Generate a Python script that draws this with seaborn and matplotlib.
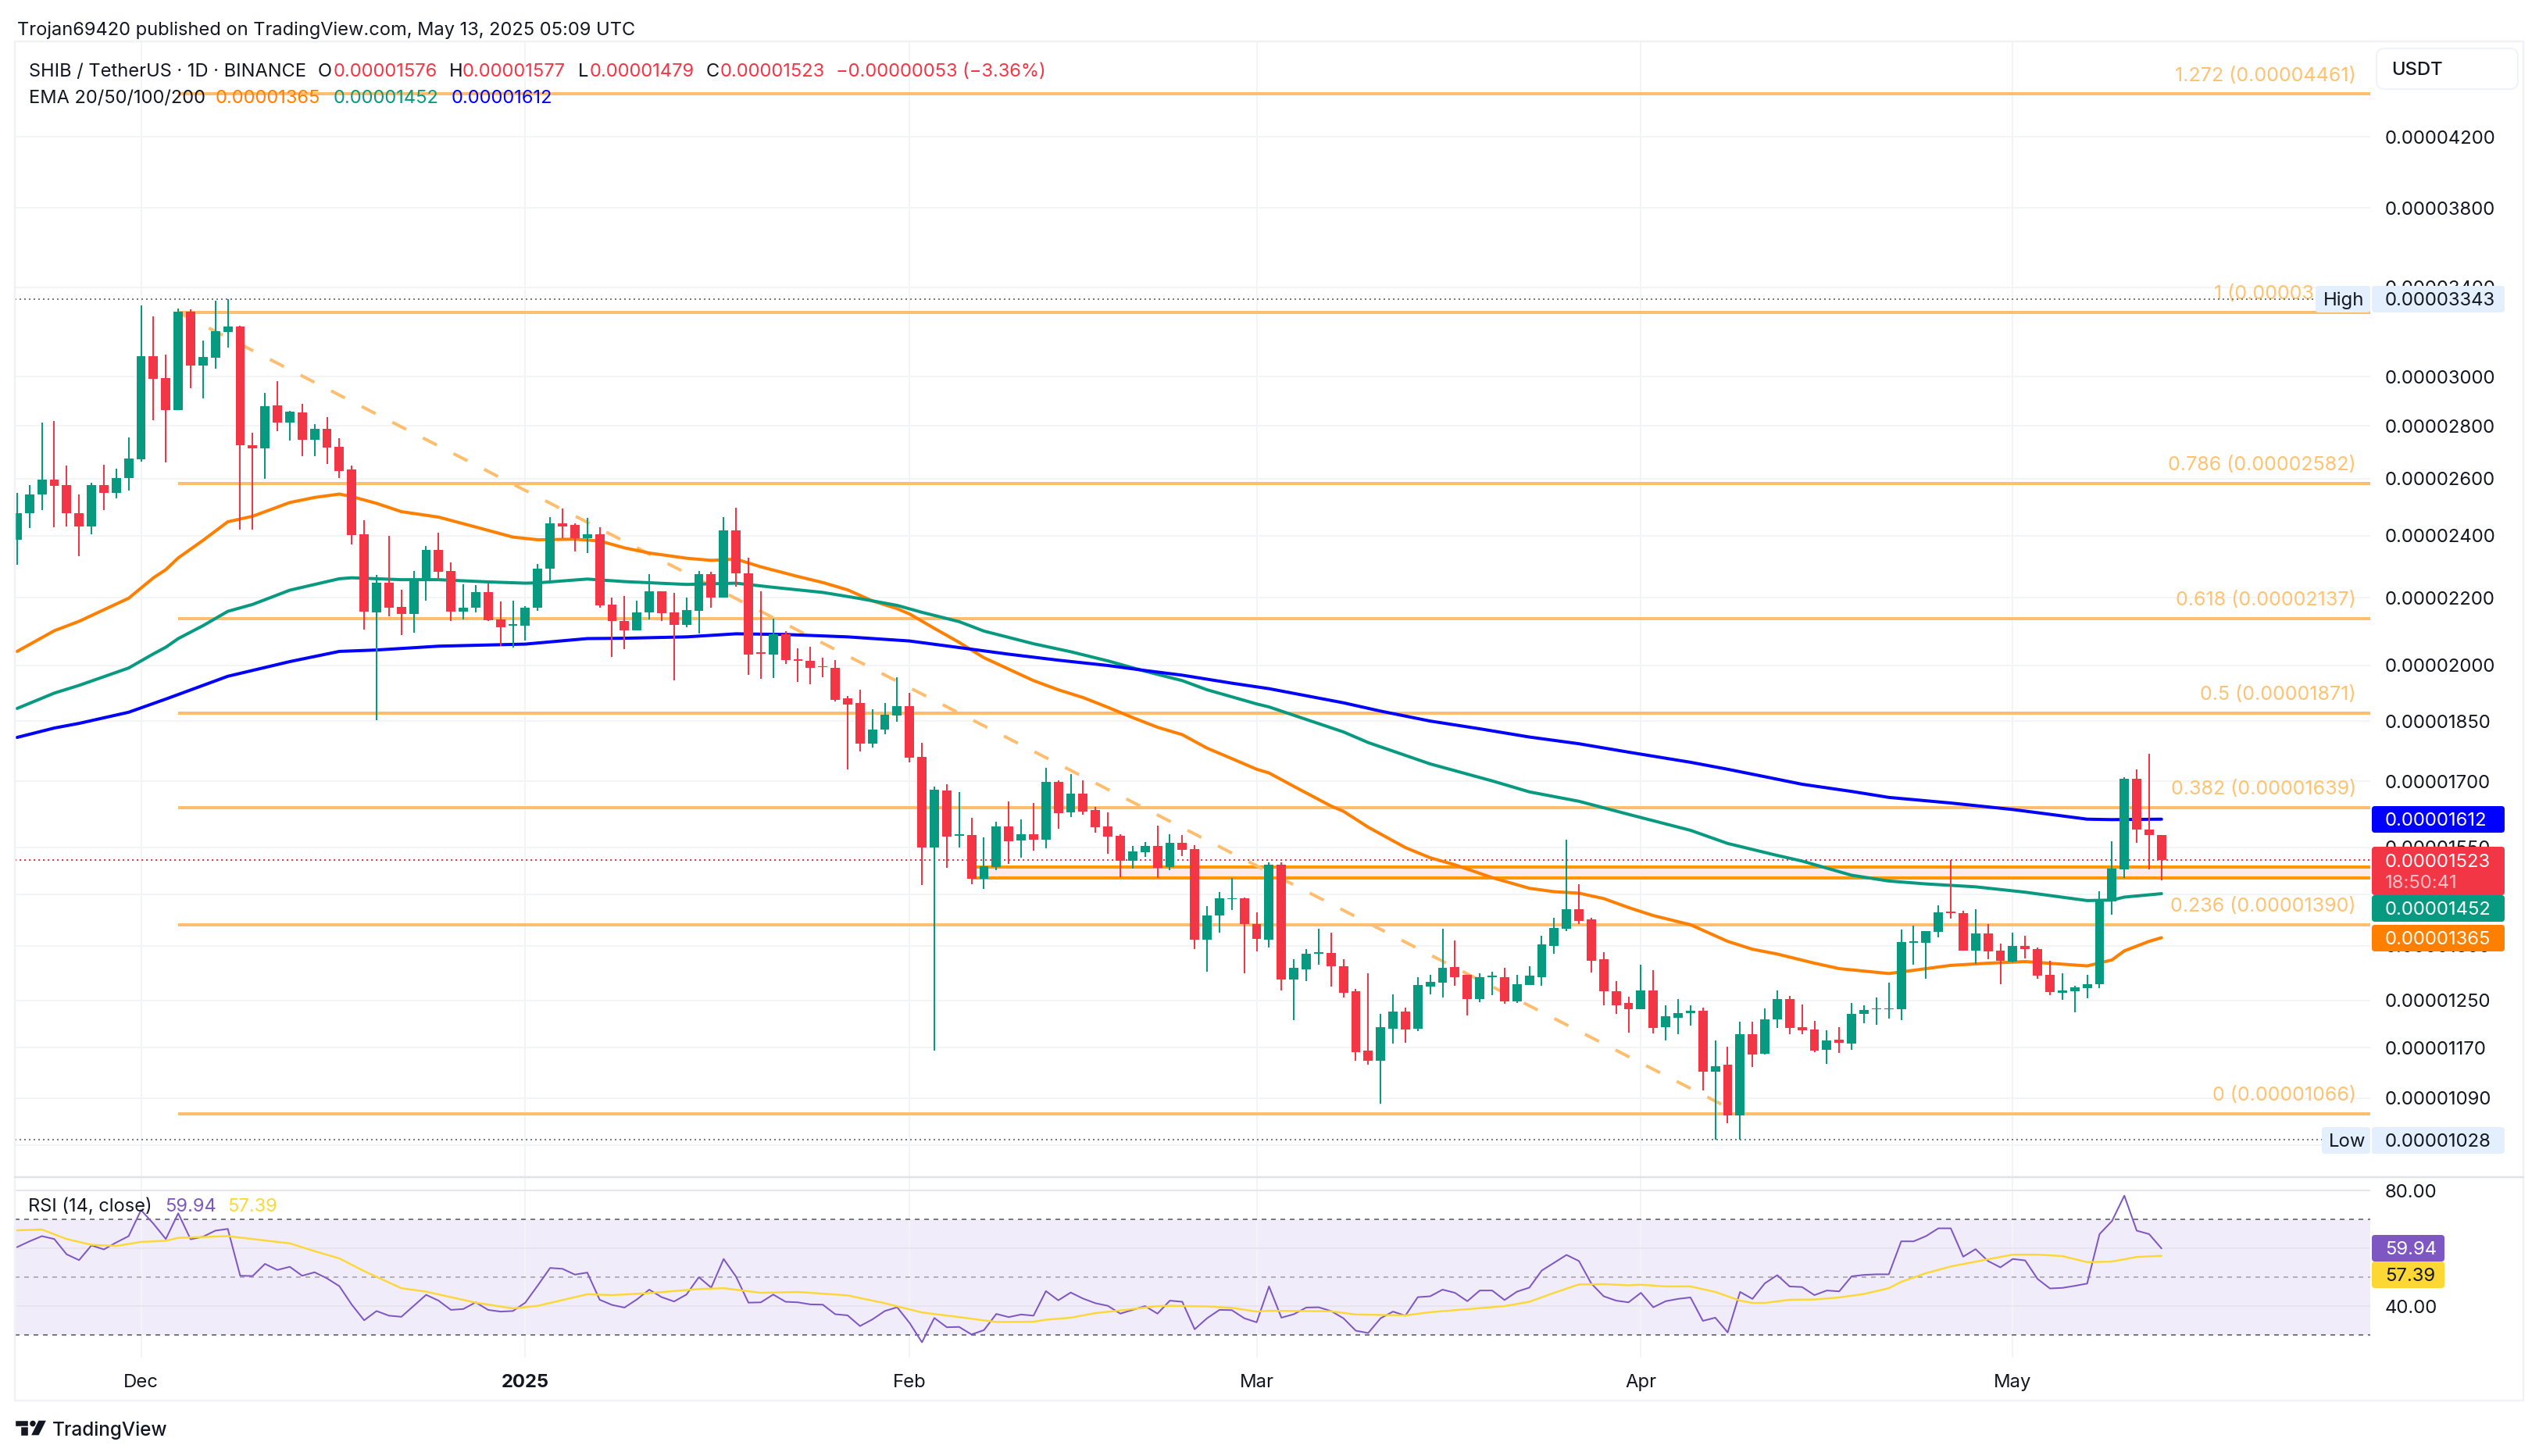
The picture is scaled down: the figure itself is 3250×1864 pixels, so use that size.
import matplotlib
matplotlib.use("Agg")
import matplotlib.pyplot as plt
import numpy as np
import pandas as pd
import seaborn as sns
from matplotlib.lines import Line2D
from matplotlib.patches import FancyBboxPatch, Polygon, Circle, Rectangle
from matplotlib.ticker import NullLocator
from matplotlib.transforms import Affine2D

# prices in units of 0.00000001 USDT; one candle per day, first is Nov 21 2024
opens = [2386,2476,2542,2595,2575,2477,2431,2575,2547,2603,2672,3088,2995,2862,3288,3046,3082,3195,3219,2725,
         2713,2882,2811,2854,2746,2788,2718,2634,2405,2154,2247,2172,2151,2251,2351,2284,2158,2168,2218,2134,
         2116,2115,2168,2290,2442,2435,2391,2405,2179,2130,2101,2154,2219,2154,2118,2160,2273,2200,2418,2276,
         2037,2032,2090,2018,2013,1998,1993,1910,1897,1793,1828,1865,1889,1760,1550,1678,1575,1576,1483,1507,
         1596,1564,1578,1566,1699,1628,1671,1632,1596,1575,1521,1539,1552,1507,1559,1545,1361,1408,1441,1442,
         1391,1361,1513,1287,1305,1335,1336,1312,1266,1165,1148,1201,1230,1201,1274,1281,1310,1295,1252,1291,
         1292,1248,1278,1292,1349,1382,1420,1400,1324,1266,1245,1235,1267,1204,1220,1228,1232,1131,1142,1064,
         1192,1160,1217,1253,1204,1200,1166,1183,1176,1226,1234,1234,1234,1355,1355,1376,1416,1413,1341,1373,
         1340,1320,1349,1344,1296,1263,1266,1272,1279,1437,1503,1706,1589,1576]
highs = [2547,2577,2813,2819,2649,2544,2586,2652,2637,2756,3316,3266,3095,3302,3297,3154,3337,3343,3222,2774,
         2933,2982,2860,2886,2807,2834,2750,2649,2451,2272,2400,2225,2284,2366,2409,2312,2242,2240,2245,2189,
         2191,2173,2307,2464,2493,2442,2461,2429,2199,2204,2190,2273,2219,2214,2200,2283,2280,2463,2496,2327,
         2219,2135,2099,2048,2054,2021,2015,1916,1933,1881,1897,1967,1924,1794,1687,1693,1675,1615,1571,1606,
         1652,1612,1649,1733,1703,1718,1703,1640,1627,1578,1552,1561,1597,1578,1576,1555,1427,1455,1484,1444,
         1414,1518,1518,1324,1343,1382,1374,1324,1271,1298,1227,1260,1238,1291,1296,1382,1359,1295,1298,1302,
         1308,1295,1311,1368,1403,1566,1471,1403,1337,1284,1256,1314,1304,1242,1253,1242,1238,1182,1172,1213,
         1213,1236,1267,1258,1243,1215,1198,1204,1245,1241,1255,1281,1380,1389,1378,1428,1522,1417,1421,1391,
         1353,1374,1368,1347,1321,1298,1276,1295,1457,1562,1710,1729,1766,1577]
lows = [2305,2426,2488,2429,2431,2332,2405,2488,2530,2558,2662,2822,2661,2862,2952,2910,3032,3123,2421,2419,
        2600,2780,2742,2684,2684,2655,2603,2371,2104,1853,2144,2088,2094,2191,2256,2128,2134,2154,2129,2056,
        2051,2072,2160,2252,2390,2346,2343,2168,2025,2047,2101,2133,2128,1959,2111,2091,2170,2200,2234,1974,
        1964,1966,2005,1955,1949,1967,1901,1728,1772,1782,1816,1848,1746,1470,1165,1505,1550,1471,1461,1501,
        1514,1528,1543,1548,1590,1617,1622,1581,1536,1486,1504,1529,1484,1501,1530,1343,1302,1374,1419,1298,
        1339,1347,1267,1216,1285,1314,1274,1255,1149,1142,1081,1177,1178,1197,1260,1255,1276,1224,1247,1259,
        1244,1245,1277,1276,1334,1377,1391,1300,1241,1226,1195,1235,1194,1182,1192,1206,1102,1028,1052,1028,
        1139,1158,1202,1192,1192,1163,1144,1161,1166,1211,1208,1219,1216,1314,1289,1366,1402,1340,1316,1325,
        1279,1318,1326,1288,1259,1251,1229,1254,1272,1410,1484,1559,1503,1479]
closes = [2477,2544,2595,2573,2476,2431,2575,2547,2603,2675,3088,2991,2862,3288,3046,3084,3199,3219,2723,2713,
          2879,2811,2857,2746,2788,2716,2629,2402,2156,2247,2168,2151,2259,2351,2282,2158,2170,2218,2132,2111,
          2119,2170,2292,2442,2431,2390,2405,2177,2128,2102,2154,2219,2153,2118,2161,2273,2200,2418,2276,2032,
          2033,2090,2016,2014,1994,1995,1905,1894,1793,1828,1866,1889,1758,1550,1680,1573,1578,1483,1509,1596,
          1562,1578,1566,1699,1626,1671,1629,1594,1573,1521,1540,1552,1505,1559,1544,1361,1408,1442,1443,1391,
          1362,1513,1287,1308,1335,1337,1312,1264,1162,1148,1204,1231,1200,1277,1283,1309,1292,1252,1291,1294,
          1248,1279,1294,1352,1383,1420,1398,1321,1266,1242,1235,1267,1202,1222,1228,1232,1131,1140,1064,1192,
          1159,1217,1253,1202,1198,1165,1182,1178,1227,1233,1236,1236,1357,1358,1377,1414,1413,1341,1373,1339,
          1321,1349,1343,1294,1265,1268,1273,1279,1440,1504,1706,1589,1576,1523]

ema_orange_i = [0,3,5,9,11,12,13,15,17,19,22,24,26,27,29,31,34,37,40,42,45,47,49,51,54,56,58,60,63,65,67,69,71,72,74,76,78,
                82,84,86,88,90,92,94,96,98,100,101,103,106,107,109,112,114,116,119,122,124,126,128,130,132,135,138,140,
                142,145,147,151,156,159,162,167,169,170,172,173]
ema_orange = [2040,2100,2128,2198,2262,2288,2326,2384,2447,2466,2514,2532,2544,2535,2511,2482,2463,2429,2395,2386,2388,2382,2359,
              2342,2325,2318,2322,2297,2266,2247,2224,2190,2166,2150,2107,2066,2022,1958,1933,1912,1886,1859,1834,1815,1781,
              1755,1729,1720,1688,1642,1630,1594,1549,1527,1512,1485,1463,1456,1453,1442,1424,1408,1390,1358,1343,1334,1317,
              1307,1298,1313,1317,1320,1312,1323,1340,1358,1365]
ema_green_i = [0,3,5,9,11,12,13,15,17,19,22,26,27,31,34,38,41,42,46,49,54,58,61,65,68,71,73,76,78,82,85,88,91,94,96,98,100,101,
               107,109,114,119,122,126,130,135,138,142,144,148,151,154,158,162,167,169,170,173]
ema_green = [1883,1924,1945,1993,2033,2052,2077,2115,2158,2179,2223,2259,2262,2256,2256,2249,2245,2246,2258,2250,2241,2245,2232,
             2216,2197,2176,2155,2127,2099,2062,2039,2013,1984,1958,1933,1914,1895,1887,1822,1795,1742,1701,1675,1653,1623,
             1587,1558,1532,1520,1490,1478,1472,1466,1455,1438,1439,1445,1452]
ema_blue_i = [0,3,5,9,12,17,22,26,29,34,41,46,49,54,58,62,67,72,76,80,84,88,91,94,98,101,107,110,114,118,122,126,130,135,138,141,
              144,148,151,156,161,164,167,169,173]
ema_blue = [1808,1832,1844,1873,1908,1970,2011,2040,2044,2055,2061,2077,2078,2082,2091,2089,2082,2070,2051,2032,2015,2000,1986,
            1973,1951,1936,1898,1876,1850,1830,1809,1792,1771,1746,1729,1711,1693,1676,1662,1649,1634,1623,1612,1611,1612]

rsi = [60.4,62.4,64.2,63.2,57.9,55.9,61.0,59.6,62.0,64.2,73.2,68.5,63.2,72.1,63.1,64.0,66.1,66.7,50.5,50.4,
       54.6,52.5,53.6,50.5,51.7,49.6,46.9,40.5,35.1,38.3,36.7,36.3,40.1,43.9,41.9,38.7,39.0,41.3,38.7,38.1,
       38.3,41.2,47.1,53.2,52.9,50.9,51.6,42.2,40.4,39.5,42.3,45.7,43.1,41.6,44.0,50.0,46.4,56.3,50.2,41.2,
       41.3,44.0,41.5,41.3,40.6,40.5,37.2,36.8,33.1,35.4,38.3,39.6,34.2,27.5,35.9,32.7,32.8,30.2,31.7,37.3,
       36.2,37.1,36.7,45.2,42.0,44.7,42.6,41.0,40.1,37.4,38.7,40.0,37.4,41.9,41.5,32.0,35.8,38.7,38.6,35.8,
       34.4,46.8,36.0,37.2,39.5,39.6,38.3,35.8,31.5,30.7,35.8,38.1,36.7,43.1,43.4,45.7,44.6,41.7,45.4,45.4,
       42.1,45.0,46.4,52.3,55.0,57.7,55.6,47.8,43.4,41.9,41.3,44.6,39.6,41.7,42.5,43.0,34.9,36.0,30.9,44.9,
       42.5,47.9,50.7,46.8,46.6,43.8,45.4,45.1,50.3,50.8,51.0,51.0,62.4,62.4,64.2,66.9,66.9,57.1,59.7,55.6,
       53.4,56.3,55.8,49.4,46.1,46.3,47.0,47.8,64.9,69.4,78.2,66.1,64.9,59.94]
rsi_ma_i = [0,2,4,6,8,10,12,13,17,22,24,26,28,31,33,37,40,42,46,48,51,55,57,60,63,67,70,73,76,79,82,83,85,87,89,92,93,96,98,100,
            101,106,108,112,114,116,120,122,124,126,128,130,131,133,135,137,139,140,141,143,145,147,149,151,152,154,156,159,
            161,163,165,167,169,171,173]
rsi_ma = [66.2,66.5,63.2,61.2,60.8,62.2,62.6,63.6,64.2,61.7,59.0,56.5,52.1,46.2,45.0,41.2,39.2,40.1,44.1,43.8,44.5,45.9,46.2,44.6,
          44.9,43.7,41.0,37.8,36.2,34.5,34.6,35.3,36.0,37.6,38.5,40.0,40.1,39.9,39.4,38.1,38.4,38.2,37.1,36.8,37.9,38.6,40.0,41.5,
          44.6,47.5,47.6,47.2,47.4,46.8,46.8,44.9,41.9,41.1,41.1,42.2,42.3,43.0,44.2,46.2,48.4,51.4,53.7,56.2,57.8,57.8,57.3,55.2,
          55.4,57.0,57.39]

fib_levels = [4461,3283,2582,2137,1871,1639,1390,1066]
fib_names = ["1.272 (0.00004461)","1 (0.00003","0.786 (0.00002582)","0.618 (0.00002137)",
             "0.5 (0.00001871)","0.382 (0.00001639)","0.236 (0.00001390)","0 (0.00001066)"]
fib_start, trend_end = 13, 139
zone_start, zone_top, zone_bottom = 77, 1507, 1484
last_close, period_high, period_low = 1523, 3343, 1028

price_ticks = [4200,3800,3400,3000,2800,2600,2400,2200,2000,1850,1700,1550,1450,1350,1250,1170,1090,1020]
price_tick_hidden = [1450,1020]
rsi_ticks = [80,60,40]
rsi_tick_labels = ["80.00","","40.00"]
month_pos = [10,41,72,100,131,161]
month_names = ["Dec","2025","Feb","Mar","Apr","May"]

W, H = 3250, 1864
GREEN, RED, ORANGE, BLUE = "#089981", "#f23645", "#ff7f00", "#0000ff"
FIB, INK, GRID = "#ffbe6e", "#131722", "#f3f4f6"
PURPLE, YELLOW = "#7e57c2", "#fdd835"
px = 0.72  # one pixel in points at dpi 100

sns.set_theme(style="white")
plt.rcParams["font.family"] = ["Inter", "DejaVu Sans"]

fig = plt.figure(figsize=(W / 100, H / 100), dpi=100, facecolor="white")
PX = Affine2D().scale(1, -1).translate(0, H)
LEFT, RIGHT, TOP, SEP, RBOT = 19, 3034, 53, 1507, 1738
ax = fig.add_axes([LEFT / W, 1 - SEP / H, (RIGHT - LEFT) / W, (SEP - TOP) / H])
ar = fig.add_axes([LEFT / W, 1 - RBOT / H, (RIGHT - LEFT) / W, (RBOT - SEP) / H])
XMIN, XMAX = -0.18, 189.84

df = pd.DataFrame({"o": opens, "h": highs, "l": lows, "c": closes})
df["i"] = np.arange(len(df))
df["up"] = df.c >= df.o

ax.set_yscale("log")
for a in (ax, ar):
    a.set_facecolor("white")
    for s in a.spines.values():
        s.set_visible(False)
    a.set_xlim(XMIN, XMAX)
    a.set_axisbelow(True)
    a.grid(True, axis="both", color=GRID, lw=2 * px)
    a.set_xticks(month_pos)
    a.tick_params(length=0)
ax.set_ylim(975.4, 4802)
ar.set_ylim(22.2, 84.6)

ax.yaxis.set_minor_locator(NullLocator())
ax.xaxis.set_minor_locator(NullLocator())
ax.yaxis.tick_right()
ax.set_yticks(price_ticks, ["" if t in price_tick_hidden else f"{t * 1e-8:.8f}" for t in price_ticks])
ax.set_xticklabels([])
ax.tick_params(axis="y", pad=19 * px, labelsize=17.2, labelcolor=INK)

# fib levels and labels
ax.hlines(fib_levels, fib_start, XMAX, color=FIB, lw=4 * px, zorder=2)
for lv, nm in zip(fib_levels, fib_names):
    right_gap = 72 if nm.startswith("1 (") else 18
    ax.annotate(nm, xy=(1, lv), xycoords=("axes fraction", "data"), xytext=(-right_gap * px, 23 * px),
                textcoords="offset points", ha="right", va="center", color="#ffc271", fontsize=18, zorder=2)
sns.lineplot(x=[fib_start, trend_end], y=[fib_levels[1], fib_levels[-1]], ax=ax, color=FIB, lw=4 * px,
             linestyle=(0, (5, 6)), zorder=2.5, legend=False, estimator=None, sort=False)

# zone
ax.fill_between([zone_start, XMAX], zone_bottom, zone_top, color="#fdeaeb", lw=0, zorder=1.5)
ax.hlines([zone_top, zone_bottom], zone_start, XMAX, color="#ff9800", lw=4 * px, zorder=2.2)

# dotted reference lines
ax.hlines(last_close, XMIN, XMAX, color=RED, lw=2 * px, linestyle=(0, (1, 2)), zorder=2.8)
ax.plot([XMIN, (2964 - 21.9) / 15.866], [period_high] * 2, color="#787b86", lw=2 * px, ls=(0, (1, 2)), zorder=2.8)
ax.plot([XMIN, (2972 - 21.9) / 15.866], [period_low] * 2, color="#787b86", lw=2 * px, ls=(0, (1, 2)), zorder=2.8)

# EMAs
for xs, ys, col in [(ema_orange_i, ema_orange, ORANGE), (ema_green_i, ema_green, GREEN), (ema_blue_i, ema_blue, BLUE)]:
    sns.lineplot(x=xs, y=ys, ax=ax, color=col, lw=4 * px, zorder=3, legend=False, estimator=None, sort=False,
                 solid_capstyle="round")

# candles
for up, col in [(True, GREEN), (False, RED)]:
    d = df[df.up == up]
    ax.vlines(d.i, d.l, d.h, color=col, lw=2 * px, zorder=5)
    b = d[["o", "c"]].min(axis=1)
    t = d[["o", "c"]].max(axis=1)
    ax.bar(d.i, t - b, bottom=b, width=0.75, color=col, lw=0, zorder=5.1)

ax.set_xlim(XMIN, XMAX)
ax.set_ylim(975.4, 4802)

# RSI pane
ar.yaxis.tick_right()
ar.set_yticks(rsi_ticks, rsi_tick_labels)
ar.tick_params(axis="y", pad=19 * px, labelsize=17.2, labelcolor=INK)
ar.fill_between([XMIN, XMAX], 30, 70, color="#f0ecf9", lw=0, zorder=0.2)
ar.grid(True, axis="y", color="#e7e4ee", lw=2 * px)
ar.hlines([30, 70], XMIN, XMAX, color="#787b86", lw=2 * px, linestyle=(0, (3, 3)), zorder=1)
ar.hlines(50, XMIN, XMAX, color="#b2b0b8", lw=2 * px, linestyle=(0, (3, 3)), zorder=1)
sns.lineplot(x=df.i, y=rsi, ax=ar, color=PURPLE, lw=2 * px, zorder=3, legend=False, estimator=None, sort=False)
sns.lineplot(x=rsi_ma_i, y=rsi_ma, ax=ar, color=YELLOW, lw=2.4 * px, zorder=3.2, legend=False, estimator=None, sort=False)
ar.set_xlabel("")
ar.set_ylabel("")
ax.set_xlabel("")
ax.set_ylabel("")
ar.set_xticks(month_pos, month_names)
ar.tick_params(axis="x", pad=21 * px, labelsize=17.2, labelcolor=INK)
ar.get_xticklabels()[1].set_fontweight("bold")


def box(x0, y0, x1, y1, col, z=6, r=4, ec="none"):
    fig.add_artist(FancyBboxPatch((x0, y0), x1 - x0, y1 - y0, boxstyle=f"round,pad=0,rounding_size={r}",
                                  fc=col, ec=ec, lw=1.5, transform=PX, zorder=z))


def label(x, y, s, col=INK, size=17.2, weight="normal", ha="left", z=7):
    fig.text(x, y + 2, s, color=col, fontsize=size, fontweight=weight, ha=ha, va="center", transform=PX, zorder=z)


# frame
FR = "#f1f2f5"
for (x0, y0, x1, y1, c) in [(19, 53, 3230, 53, FR), (19, 1793, 3230, 1793, FR), (3230, 53, 3230, 1793, FR),
                            (19, 53, 19, 1793, FR), (19, SEP, 3230, SEP, "#e0e3eb")]:
    fig.add_artist(Line2D([x0, x1], [y0, y1], color=c, lw=2.5 * px, transform=PX, zorder=4))

# price tags
PBX0, PBX1, TX = 3036, 3206, 3053
box(PBX0, 1032, PBX1, 1066, BLUE)
label(TX, 1049, f"{ema_blue[-1] * 1e-8:.8f}", "white")
box(PBX0, 1084, PBX1, 1146, RED)
label(TX, 1102, f"{closes[-1] * 1e-8:.8f}", "white")
label(TX, 1129, "18:50:41", "#fbc0c5")
box(PBX0, 1146, PBX1, 1180, GREEN)
label(TX, 1163, f"{ema_green[-1] * 1e-8:.8f}", "white")
box(PBX0, 1184, PBX1, 1218, ORANGE)
label(TX, 1201, f"{ema_orange[-1] * 1e-8:.8f}", "white")
HB = "#e3effd"
box(PBX0, 366, PBX1, 400, HB)
label(TX, 383, f"{period_high * 1e-8:.8f}")
box(2964, 366, 3034, 400, HB)
label(2974, 383, "High")
box(PBX0, 1443, PBX1, 1477, HB)
label(TX, 1460, f"{period_low * 1e-8:.8f}")
box(2972, 1443, 3034, 1477, HB)
label(2981, 1460, "Low")
box(PBX0, 1581, 3129, 1615, PURPLE)
label(3053, 1598, f"{rsi[-1]:.2f}", "white")
box(PBX0, 1615, 3129, 1649, YELLOW)
label(3053, 1632, f"{rsi_ma[-1]:.2f}", INK)
box(3042, 62, 3223, 114, "white", r=10, ec="#f0f3fa")
label(3061, 88, "USDT", INK, 17.2, "medium")

# header text
label(22, 37, "Trojan69420 published on TradingView.com, May 13, 2025 05:09 UTC", INK, 17.0)
label(37, 90, "SHIB / TetherUS · 1D · BINANCE", INK, 17.0)
for x, s in [(407, "O"), (575, "H"), (740, "L"), (904, "C")]:
    label(x, 90, s, INK, 17.0)
for x, s in [(427, "0.00001576"), (592, "0.00001577"), (755, "0.00001479"), (922, "0.00001523"),
             (1070, "−0.00000053 (−3.36%)")]:
    label(x, 90, s, RED, 17.0)
label(37, 124, "EMA 20/50/100/200", INK, 17.0)
label(276, 124, f"{ema_orange[-1] * 1e-8:.8f}", ORANGE, 17.0)
label(427, 124, f"{ema_green[-1] * 1e-8:.8f}", GREEN, 17.0)
label(578, 124, f"{ema_blue[-1] * 1e-8:.8f}", BLUE, 17.0)
label(36, 1543, "RSI (14, close)", INK, 17.0)
label(211, 1543, f"{rsi[-1]:.2f}", PURPLE, 17.0)
label(291, 1543, f"{rsi_ma[-1]:.2f}", YELLOW, 17.0)

# TradingView mark
for art in [Rectangle((19, 1818), 17, 8, fc="#131722", transform=PX, zorder=7),
            Rectangle((26, 1826), 10, 12, fc="#131722", transform=PX, zorder=7),
            Circle((42, 1822.5), 4.5, fc="#131722", transform=PX, zorder=7),
            Polygon([(49, 1818), (60, 1818), (50, 1838), (39, 1838)], closed=True, fc="#131722", transform=PX, zorder=7)]:
    fig.add_artist(art)
label(67, 1829, "TradingView", INK, 17.5, "medium")

fig.savefig("out.png", dpi=100, facecolor="white")
